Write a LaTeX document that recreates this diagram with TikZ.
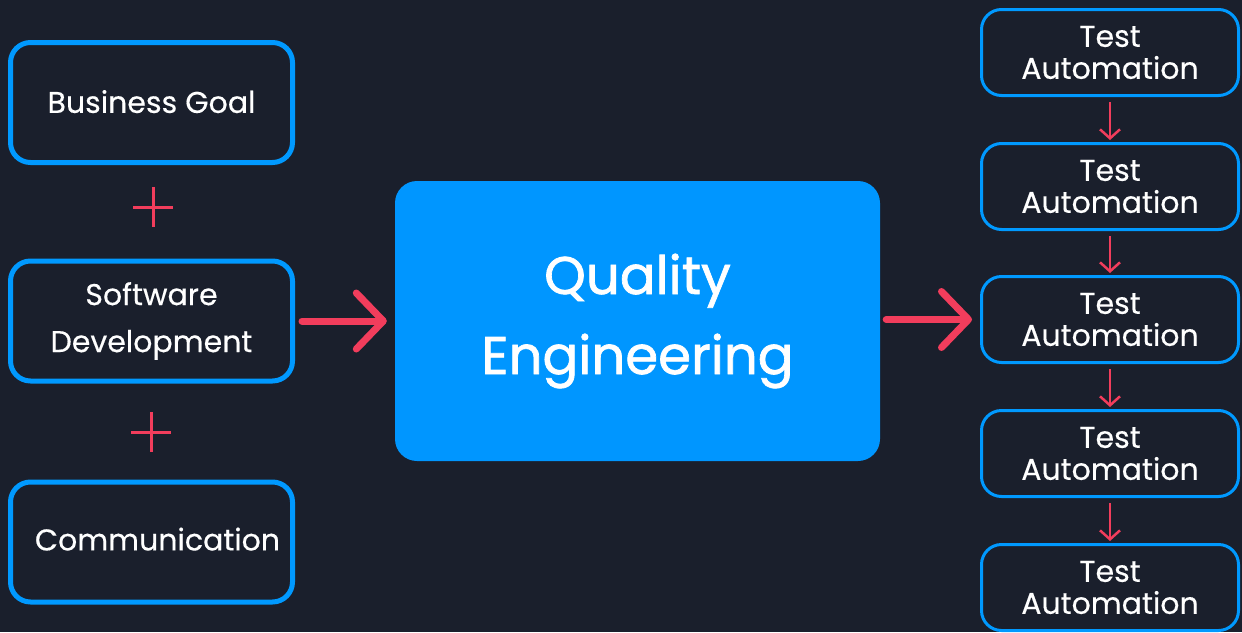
\documentclass[tikz,border=0pt]{standalone}
\usepackage{fontspec}
\setmainfont{Poppins}[FakeBold=0.4]
\newfontfamily\qefont[FakeBold=1.3]{Poppins}
\usetikzlibrary{arrows.meta}
\definecolor{bg}{HTML}{1A1F2C}
\definecolor{qblue}{HTML}{0096FF}
\definecolor{qstroke}{HTML}{0099FF}
\definecolor{qred}{HTML}{F23D5C}
\tikzset{
  leftbox/.style={draw=qstroke, line width=5pt, rounded corners=20pt, fill=bg,
    minimum width=282pt, minimum height=120pt, inner sep=0pt, text=white, align=center,
    font=\fontsize{30}{47}\selectfont},
  rightbox/.style={draw=qstroke, line width=3pt, rounded corners=20pt, fill=bg,
    minimum width=257pt, minimum height=86pt, inner sep=0pt, text=white, align=center,
    font=\fontsize{30}{32}\selectfont},
  mainbox/.style={fill=qblue, rounded corners=22pt, minimum width=485pt, minimum height=280pt,
    inner sep=0pt, text=white, align=center, font=\qefont\fontsize{53}{80}\selectfont},
  bigarrow/.style={draw=qred, line width=7pt, line cap=round,
    -{Straight Barb[length=27pt,width=56pt,round]}},
  smallarrow/.style={draw=qred, line width=2.5pt,
    -{Straight Barb[length=9pt,width=20pt]}},
  plussign/.style={draw=qred, line width=3pt},
}
\begin{document}
\begin{tikzpicture}[x=1pt,y=-1pt]
\fill[bg] (0,0) rectangle (1242,632);
\useasboundingbox (0,0) rectangle (1242,632);
\begin{scope}
\clip (0,0) rectangle (1242,632);
% left column
\node[leftbox] (bg1) at (151.5,102.5) {\raisebox{2pt}{Business Goal}};
\node[leftbox] (sd) at (151.5,321) {Software\\Development};
\node[leftbox] (cm) at (151.5,542) {\hspace*{12pt}\raisebox{6pt}{Communication}};
% plus signs
\draw[plussign] (153,187) -- (153,227) (133,207) -- (173,207);
\draw[plussign] (151,412) -- (151,452) (131,432) -- (171,432);
% main
\node[mainbox] (qe) at (637.5,321) {Quality\\Engineering};
% right column
\node[rightbox] (t1) at (1110,52.5) {Test\\Automation};
\node[rightbox] (t2) at (1110,186.5) {Test\\Automation};
\node[rightbox] (t3) at (1110,319.5) {Test\\Automation};
\node[rightbox] (t4) at (1110,453.5) {Test\\Automation};
\node[rightbox] (t5) at (1110,587.5) {Test\\Automation};
% connectors
\draw[bigarrow, shorten <=7pt, shorten >=8pt] (sd.east) -- (sd.east -| qe.west);
\draw[bigarrow, shorten <=6pt, shorten >=8pt] (qe.east |- t3.west) -- (t3.west);
\foreach \a/\b in {t1/t2,t2/t3,t3/t4,t4/t5}{
  \draw[smallarrow, shorten <=5pt, shorten >=2pt] (\a.south) -- (\b.north);
}
\end{scope}
\end{tikzpicture}
\end{document}
